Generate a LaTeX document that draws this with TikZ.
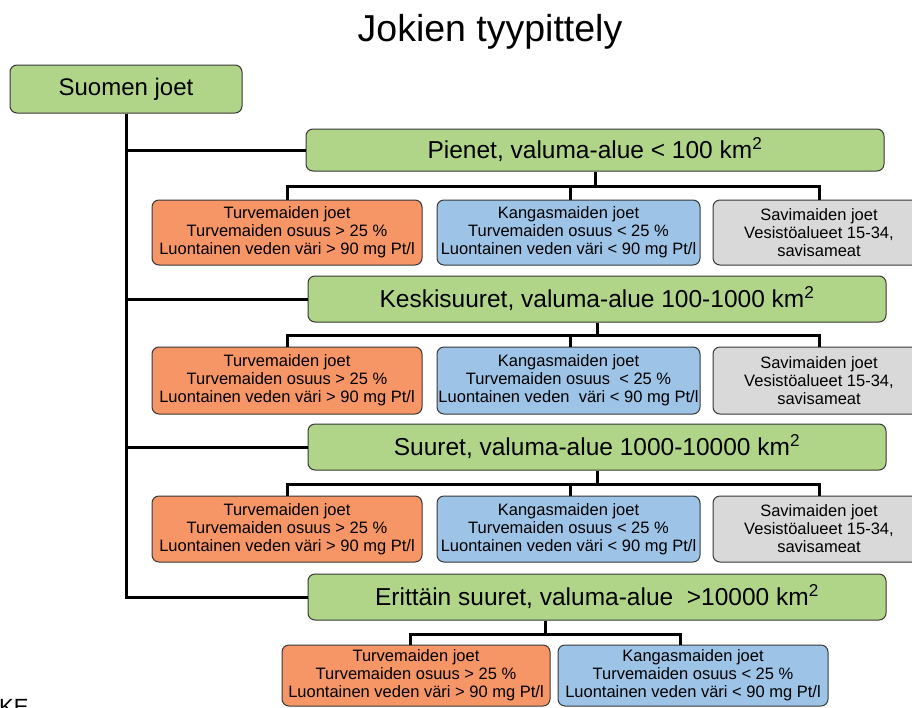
\documentclass[tikz,border=0pt]{standalone}
\usepackage{fontspec}
\setmainfont{Liberation Sans}
\definecolor{levelgreen}{RGB}{176,213,137}
\definecolor{peatorange}{RGB}{246,150,102}
\definecolor{heathblue}{RGB}{157,195,230}
\definecolor{claygray}{RGB}{217,217,217}
\definecolor{boxline}{RGB}{55,55,55}
\tikzset{
	luokka/.style={draw=boxline, line width=1pt, rounded corners=7pt, fill=levelgreen, inner sep=0pt, font=\fontsize{24.5}{28}\selectfont},
	alaluokka/.style={draw=boxline, line width=1pt, rounded corners=7pt, inner sep=0pt, align=center, font=\fontsize{16.5}{18}\selectfont},
	yhteys/.style={line width=3pt}
}
\begin{document}
\begin{tikzpicture}[x=1pt,y=-1pt]
	\clip (0,0) rectangle (912,707);
	\node[font=\fontsize{37.5}{40}\selectfont] (otsikko) at (490,32) {Jokien tyypittely};
	\node[luokka, minimum width=232pt, minimum height=48pt, font=\fontsize{24}{28}\selectfont] (juuri) at (126,89) {Suomen joet};
	
	\node[luokka, minimum width=578pt, minimum height=42pt] (pien) at (595,150) {Pienet, valuma-alue < 100 km\textsuperscript{2}};
	\node[luokka, minimum width=578pt, minimum height=46pt] (kesk) at (597,299) {Keskisuuret, valuma-alue 100-1000 km\textsuperscript{2}};
	\node[luokka, minimum width=578pt, minimum height=46pt] (suur) at (597,447) {Suuret, valuma-alue 1000-10000 km\textsuperscript{2}};
	\node[luokka, minimum width=578pt, minimum height=46pt] (erit) at (597,597) {Erittäin suuret, valuma-alue \ >10000 km\textsuperscript{2}};
	
	\node[alaluokka, fill=peatorange, minimum width=270pt, minimum height=65pt] (t1) at (287,232.5) {Turvemaiden joet\\Turvemaiden osuus > 25 \%\\Luontainen veden väri > 90 mg Pt/l};
	\node[alaluokka, fill=heathblue, minimum width=263pt, minimum height=65pt] (k1) at (568.5,232.5) {Kangasmaiden joet\\Turvemaiden osuus < 25 \%\\Luontainen veden väri < 90 mg Pt/l};
	\node[alaluokka, fill=claygray, minimum width=212pt, minimum height=65pt] (s1) at (819,232.5) {Savimaiden joet\\Vesistöalueet 15-34,\\savisameat};
	
	\node[alaluokka, fill=peatorange, minimum width=270pt, minimum height=67pt] (t2) at (287,380.5) {Turvemaiden joet\\Turvemaiden osuus > 25 \%\\Luontainen veden väri > 90 mg Pt/l};
	\node[alaluokka, fill=heathblue, minimum width=263pt, minimum height=67pt] (k2) at (568.5,380.5) {Kangasmaiden joet\\Turvemaiden osuus \ < 25 \%\\Luontainen veden \ väri < 90 mg Pt/l};
	\node[alaluokka, fill=claygray, minimum width=212pt, minimum height=67pt] (s2) at (819,380.5) {Savimaiden joet\\Vesistöalueet 15-34,\\savisameat};
	
	\node[alaluokka, fill=peatorange, minimum width=270pt, minimum height=66pt] (t3) at (287,529) {Turvemaiden joet\\Turvemaiden osuus > 25 \%\\Luontainen veden väri > 90 mg Pt/l};
	\node[alaluokka, fill=heathblue, minimum width=263pt, minimum height=66pt] (k3) at (568.5,529) {Kangasmaiden joet\\Turvemaiden osuus < 25 \%\\Luontainen veden väri < 90 mg Pt/l};
	\node[alaluokka, fill=claygray, minimum width=212pt, minimum height=66pt] (s3) at (819,529) {Savimaiden joet\\Vesistöalueet 15-34,\\savisameat};
	
	\node[alaluokka, fill=peatorange, minimum width=268pt, minimum height=61pt] (t4) at (416,675.5) {Turvemaiden joet\\Turvemaiden osuus > 25 \%\\Luontainen veden väri > 90 mg Pt/l};
	\node[alaluokka, fill=heathblue, minimum width=270pt, minimum height=61pt] (k4) at (693,675.5) {Kangasmaiden joet\\Turvemaiden osuus < 25 \%\\Luontainen veden väri < 90 mg Pt/l};
	
	\node[anchor=north west, inner sep=0pt, font=\fontsize{22}{24}\selectfont] (lahde) at (-1,699) {KE};
	
	% runko
	\draw[yhteys] (juuri.south) |- (erit.west);
	\draw[yhteys] (juuri.south |- pien.west) -- (pien.west);
	\draw[yhteys] (juuri.south |- kesk.west) -- (kesk.west);
	\draw[yhteys] (juuri.south |- suur.west) -- (suur.west);
	
	% haarat
	\draw[yhteys] (pien.south) -- ++(0,15) coordinate (b1);
	\draw[yhteys] (t1.north) |- (b1) -| (s1.north);
	\draw[yhteys] ([xshift=2pt]k1.north) -- ([xshift=2pt]k1.north |- b1);
	
	\draw[yhteys] (kesk.south) -- ++(0,13) coordinate (b2);
	\draw[yhteys] (t2.north) |- (b2) -| (s2.north);
	\draw[yhteys] ([xshift=2pt]k2.north) -- ([xshift=2pt]k2.north |- b2);
	
	\draw[yhteys] (suur.south) -- ++(0,14) coordinate (b3);
	\draw[yhteys] (t3.north) |- (b3) -| (s3.north);
	\draw[yhteys] ([xshift=2pt]k3.north) -- ([xshift=2pt]k3.north |- b3);
	
	\draw[yhteys] ([xshift=-52pt]erit.south) -- ++(0,14) coordinate (b4);
	\draw[yhteys] ([xshift=-6pt]t4.north) |- (b4) -| ([xshift=-13pt]k4.north);
\end{tikzpicture}
\end{document}
